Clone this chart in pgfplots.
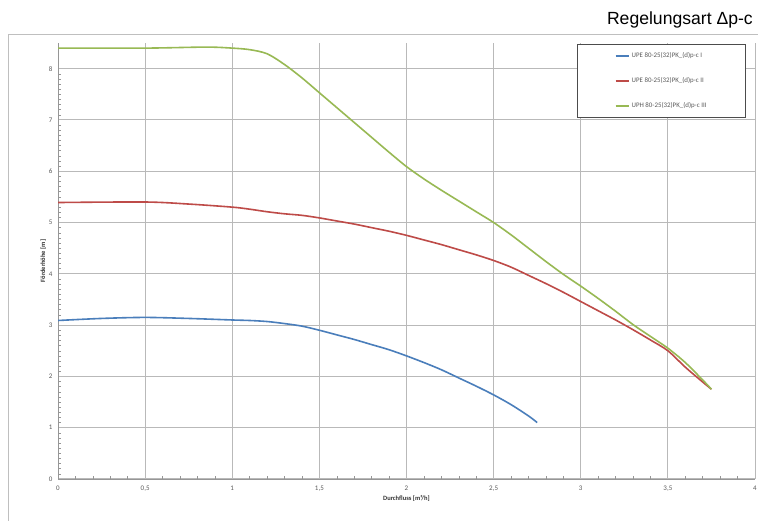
\documentclass[border=0pt]{standalone}
\usepackage{pgfplots}
\pgfplotsset{compat=1.18}
\usepackage{fontspec}
\setmainfont{Liberation Sans}
\newfontfamily\carlito{Carlito}
\definecolor{cblue}{RGB}{74,126,187}
\definecolor{cred}{RGB}{190,75,72}
\definecolor{cgreen}{RGB}{152,185,84}
\definecolor{cgrid}{RGB}{185,185,185}
\definecolor{caxis}{RGB}{150,150,150}
\definecolor{ctext}{RGB}{90,90,90}
\begin{document}
\begin{tikzpicture}[x=1pt,y=1pt]
\useasboundingbox (0,0) rectangle (758,521);
\fill[white] (0,0) rectangle (758,521);
\draw[black!25, line width=1pt] (8,-10) rectangle (770,486);
\node[anchor=base east, inner sep=0pt, font=\fontsize{17.6}{20}\selectfont] at (753,496) {Regelungsart Δp-c};
\begin{axis}[
  at={(58pt,42pt)}, anchor=south west,
  scale only axis, width=697pt, height=436pt,
  xmin=0, xmax=4, ymin=0, ymax=8.5,
  xtick={0,0.5,...,4}, ytick={0,1,...,8},
  minor x tick num=4, minor y tick num=9,
  axis x line*=bottom, axis y line*=left,
  axis line style={caxis, line width=0.8pt},
  every tick/.style={caxis, line width=0.5pt},
  tick align=inside, major tick length=0pt, minor tick length=2.5pt,
  grid=major, major grid style={cgrid, line width=1pt},
  /pgf/number format/use comma,
  /pgf/number format/assume math mode=true,
  ticklabel style={font=\carlito\fontsize{7}{8}\selectfont, text=ctext},
  xticklabel style={yshift=-3pt},
  yticklabel style={xshift=-2pt},
  xlabel={\textbf{Durchfluss [m³/h]}},
  ylabel={\textbf{Förderhöhe [m]}},
  label style={font=\carlito\fontsize{6.5}{8}\selectfont, text=black!80},
  xlabel style={yshift=2pt},
  ylabel style={yshift=-4pt},
  legend style={at={(0.987,0.998)}, anchor=north east, draw=black!70, line width=0.8pt, fill=white,
    font=\carlito\fontsize{6.9}{8}\selectfont, text=ctext, row sep=14.5pt,
    inner xsep=37pt, inner ysep=6pt, cells={anchor=west}},
  legend image code/.code={\draw[#1, line width=2pt, line cap=butt] (0pt,0pt) -- (13pt,0pt);},
  every axis plot/.append style={line width=1.6pt, smooth, tension=0.5},
]
\addplot[cblue] coordinates {(0,3.09) (0.25,3.13) (0.5,3.15) (0.75,3.13) (1.0,3.10) (1.1,3.09) (1.2,3.07) (1.3,3.03) (1.4,2.98) (1.5,2.90) (1.6,2.81) (1.7,2.72) (1.8,2.62) (1.9,2.52) (2.0,2.40) (2.1,2.27) (2.2,2.13) (2.3,1.97) (2.4,1.81) (2.5,1.64) (2.6,1.45) (2.7,1.23) (2.75,1.10)};
\addlegendentry{UPE 80-25(32)PK\_(d)p-c I}
\addplot[cred] coordinates {(0,5.39) (0.5,5.40) (0.75,5.36) (1.0,5.30) (1.1,5.26) (1.2,5.21) (1.3,5.17) (1.4,5.14) (1.5,5.09) (1.6,5.03) (1.7,4.97) (1.8,4.90) (1.9,4.83) (2.0,4.75) (2.1,4.66) (2.2,4.57) (2.3,4.47) (2.4,4.37) (2.5,4.26) (2.6,4.13) (2.7,3.97) (2.8,3.81) (2.9,3.64) (3.0,3.46) (3.1,3.28) (3.2,3.10) (3.3,2.91) (3.4,2.71) (3.5,2.50) (3.6,2.18) (3.7,1.89) (3.75,1.75)};
\addlegendentry{UPE 80-25(32)PK\_(d)p-c II}
\addplot[cgreen] coordinates {(0,8.40) (0.5,8.40) (0.85,8.42) (1.0,8.40) (1.1,8.37) (1.2,8.29) (1.3,8.08) (1.4,7.82) (1.5,7.53) (1.6,7.24) (1.7,6.95) (1.8,6.66) (1.9,6.37) (2.0,6.09) (2.1,5.85) (2.2,5.63) (2.3,5.42) (2.4,5.21) (2.5,5.0) (2.6,4.76) (2.7,4.50) (2.8,4.24) (2.9,3.99) (3.0,3.76) (3.1,3.52) (3.2,3.27) (3.3,3.01) (3.4,2.78) (3.5,2.55) (3.6,2.27) (3.7,1.93) (3.75,1.75)};
\addlegendentry{UPH 80-25(32)PK\_(d)p-c III}
\end{axis}
\end{tikzpicture}
\end{document}
